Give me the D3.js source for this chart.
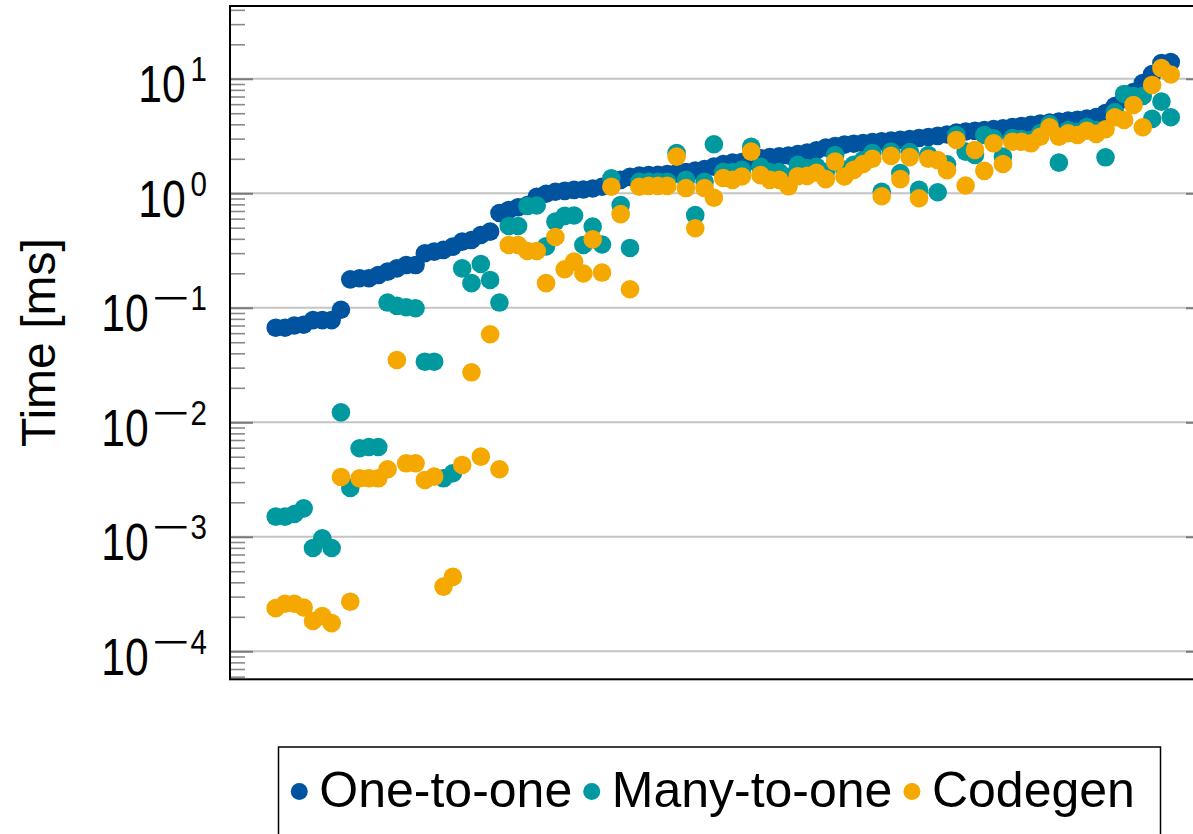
<!DOCTYPE html>
<html>
<head>
<meta charset="utf-8">
<script src="https://cdn.jsdelivr.net/npm/d3@7"></script>
<style>
  body { margin: 0; background: #fff; }
  svg { display: block; }
</style>
</head>
<body>
<svg id="chart" width="1193" height="834"></svg>
<script>
// runtimes per benchmark, sorted by the one-to-one time
const oneToOne = [
  0.067, 0.067, 0.070, 0.071, 0.078, 0.078, 0.078, 0.096, 0.177, 0.181,
  0.181, 0.193, 0.207, 0.221, 0.236, 0.236, 0.299, 0.309, 0.320, 0.342,
  0.378, 0.391, 0.432, 0.462, 0.673, 0.715, 0.755, 0.79, 0.93, 0.99,
  1.03, 1.05, 1.07, 1.08, 1.10, 1.14, 1.17, 1.31, 1.39, 1.43,
  1.44, 1.45, 1.47, 1.50, 1.53, 1.58, 1.63, 1.71, 1.80, 1.85,
  1.87, 1.93, 2.02, 2.07, 2.10, 2.14, 2.20, 2.27, 2.37, 2.51,
  2.59, 2.66, 2.71, 2.75, 2.80, 2.85, 2.89, 2.93, 2.98, 3.04,
  3.10, 3.17, 3.26, 3.39, 3.46, 3.51, 3.57, 3.64, 3.70, 3.78,
  3.87, 3.96, 4.06, 4.15, 4.23, 4.32, 4.39, 4.50, 4.62, 5.02,
  5.78, 6.66, 7.65, 9.16, 11.0, 13.7, 14.0
];
const manyToOne = [
  0.00150, 0.00150, 0.00158, 0.00177, 0.000798, 0.000970, 0.000798, 0.0122, 0.00267, 0.00593,
  0.00608, 0.00608, 0.111, 0.104, 0.101, 0.099, 0.0338, 0.0338, 0.00324, 0.00359,
  0.221, 0.164, 0.241, 0.175, 0.111, 0.518, 0.518, 0.775, 0.782, 0.344,
  0.565, 0.634, 0.640, 0.353, 0.513, 0.357, 1.35, 0.790, 0.333, 1.26,
  1.26, 1.26, 1.26, 2.24, 1.31, 0.646, 1.26, 2.68, 1.54, 1.53,
  1.60, 2.54, 1.70, 1.53, 1.53, 1.39, 1.77, 1.66, 1.70, 1.53,
  2.16, 1.60, 1.77, 1.95, 2.25, 1.03, 2.31, 1.50, 2.29, 1.07,
  2.16, 1.02, 1.79, 3.23, 2.31, 2.16, 3.23, 3.02, 2.09, 3.04,
  2.98, 2.92, 3.36, 4.03, 1.85, 3.57, 3.43, 3.79, 3.57, 2.06,
  5.13, 7.37, 7.08, 7.08, 4.46, 6.31, 4.61
];
const codegen = [
  0.000238, 0.000260, 0.000260, 0.000241, 0.000184, 0.000203, 0.000176, 0.00333, 0.000271, 0.00324,
  0.00324, 0.00324, 0.00389, 0.0350, 0.00438, 0.00438, 0.00313, 0.00335, 0.000367, 0.000446,
  0.00424, 0.0273, 0.00501, 0.0587, 0.00389, 0.353, 0.353, 0.313, 0.313, 0.164,
  0.415, 0.217, 0.253, 0.199, 0.396, 0.203, 1.14, 0.657, 0.145, 1.14,
  1.16, 1.16, 1.16, 2.09, 1.11, 0.495, 1.11, 0.913, 1.36, 1.31,
  1.40, 2.31, 1.44, 1.31, 1.31, 1.15, 1.41, 1.42, 1.51, 1.33,
  1.89, 1.40, 1.60, 1.80, 2.00, 0.941, 2.12, 1.33, 2.07, 0.904,
  2.00, 1.95, 1.59, 2.92, 1.17, 2.39, 1.57, 2.73, 1.80, 2.82,
  2.82, 2.73, 3.12, 3.77, 3.12, 3.34, 3.23, 3.52, 3.30, 3.62,
  4.61, 4.37, 5.90, 3.77, 8.83, 12.4, 10.9
];
const seriesNames = ['One-to-one', 'Many-to-one', 'Codegen'];
const yTickPowers = [-4, -3, -2, -1, 0, 1];
const yAxisLabel = 'Time [ms]';

const colors = ['#00539f', '#00999f', '#f5a800'];
const series = [oneToOne, manyToOne, codegen];

const svg = d3.select('svg#chart');

const plot = { left: 230, top: 6, right: 1209, bottom: 679.3 };
const textFont = '"Liberation Sans", Arial, sans-serif';

const xScale = d3.scaleLinear()
  .domain([-4.9, 100.1])
  .range([plot.left, plot.right]);

const yScale = d3.scaleLog()
  .domain([5.69e-5, 43.2])
  .range([plot.bottom, plot.top]);

const majors = yTickPowers.map(p => Math.pow(10, p));
const minors = [];
d3.range(-5, 2).forEach(p => {
  d3.range(2, 10).forEach(m => {
    const v = m * Math.pow(10, p);
    if (v > yScale.domain()[0] && v < yScale.domain()[1]) minors.push(v);
  });
});

// grid
svg.append('g')
  .selectAll('line').data(majors)
  .enter().append('line')
    .attr('x1', plot.left).attr('x2', plot.right)
    .attr('y1', d => yScale(d)).attr('y2', d => yScale(d))
    .attr('stroke', '#c4c4c4')
    .attr('stroke-width', 2);

// minor ticks, left and right
const minorL = d3.axisLeft(yScale).tickValues(minors).tickSize(-15).tickFormat('');
const minorR = d3.axisRight(yScale).tickValues(minors).tickSize(-15).tickFormat('');
[[minorL, plot.left], [minorR, plot.right]].forEach(([ax, x]) => {
  const g = svg.append('g').attr('transform', `translate(${x},0)`).call(ax);
  g.select('.domain').remove();
  g.selectAll('line').attr('stroke', '#8a8a8a').attr('stroke-width', 1.6);
});

// major ticks + labels
const majorR = d3.axisRight(yScale).tickValues(majors).tickSize(-23).tickFormat('');
const gR = svg.append('g').attr('transform', `translate(${plot.right},0)`).call(majorR);
gR.select('.domain').remove();
gR.selectAll('line').attr('stroke', '#7a7a7a').attr('stroke-width', 2);

const majorL = d3.axisLeft(yScale).tickValues(majors).tickSize(-23).tickPadding(23);
const gL = svg.append('g').attr('transform', `translate(${plot.left},0)`).call(majorL);
gL.select('.domain').remove();
gL.selectAll('line').attr('stroke', '#7a7a7a').attr('stroke-width', 2);
// labels are squeezed a bit, the original face is narrower than Liberation Sans
gL.selectAll('text')
  .attr('dy', null)
  .attr('x', 0)
  .attr('transform', 'translate(-23,23) scale(0.82,1)')
  .attr('fill', '#000')
  .attr('font-family', textFont)
  .attr('font-size', 52)
  .text(null)
  .each(function(d) {
    const t = d3.select(this);
    const p = Math.round(Math.log10(d));
    t.append('tspan').text('10');
    if (p < 0) {
      // long math minus like the original
      t.append('tspan')
        .attr('dx', 4)
        .attr('dy', -21)
        .attr('font-size', 36)
        .attr('textLength', 46)
        .attr('lengthAdjust', 'spacingAndGlyphs')
        .text('\u2212');
      t.append('tspan')
        .attr('dx', 1)
        .attr('font-size', 36)
        .text(String(-p));
    } else {
      t.append('tspan')
        .attr('dx', 6)
        .attr('dy', -21)
        .attr('font-size', 36)
        .text(String(p));
    }
  });

// points
series.forEach((values, s) => {
  svg.append('g')
    .selectAll('circle').data(values.map((v, i) => ({ i, v })))
    .enter().append('circle')
      .attr('cx', d => xScale(d.i))
      .attr('cy', d => yScale(d.v))
      .attr('r', 9.3)
      .attr('fill', colors[s]);
});

// frame
svg.append('rect')
  .attr('x', plot.left).attr('y', plot.top)
  .attr('width', plot.right - plot.left)
  .attr('height', plot.bottom - plot.top)
  .attr('fill', 'none')
  .attr('stroke', '#000')
  .attr('stroke-width', 2);

// y axis label
svg.append('text')
  .attr('transform', `translate(55,${(plot.top + plot.bottom) / 2}) rotate(-90)`)
  .attr('text-anchor', 'middle')
  .attr('font-family', textFont)
  .attr('font-size', 48)
  .attr('fill', '#000')
  .text(yAxisLabel);

// legend
const legend = svg.append('g');
legend.append('rect')
  .attr('x', 278.5).attr('y', 747)
  .attr('width', 882).attr('height', 120)
  .attr('fill', '#fff')
  .attr('stroke', '#000')
  .attr('stroke-width', 1.5);

let cx = 299.3;
seriesNames.forEach((name, s) => {
  legend.append('circle')
    .attr('cx', cx).attr('cy', 791.5)
    .attr('r', 8.5)
    .attr('fill', colors[s]);
  const txt = legend.append('text')
    .attr('x', cx + 20).attr('y', 807)
    .attr('font-family', textFont)
    .attr('font-size', 50)
    .attr('fill', '#000')
    .text(name);
  cx = cx + 20 + txt.node().getComputedTextLength() + 19.5;
});
</script>
</body>
</html>
